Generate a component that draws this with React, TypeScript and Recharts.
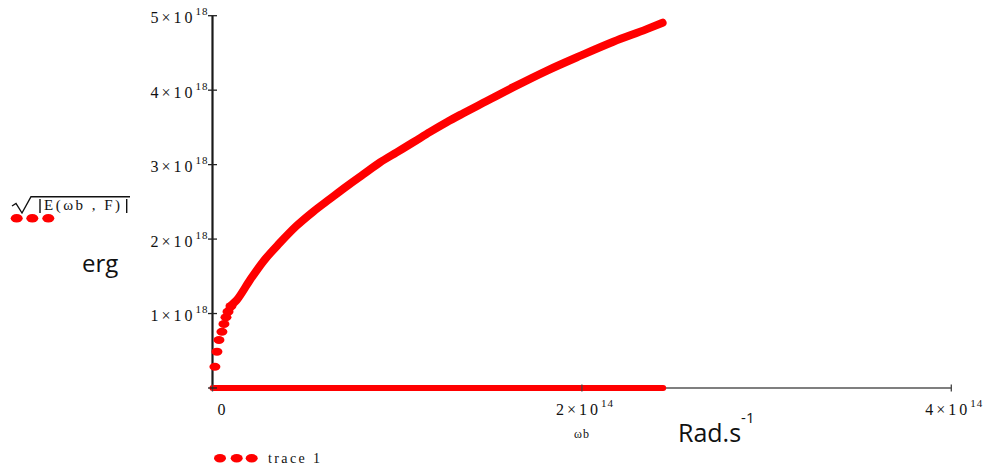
import React from 'react';
import { ComposedChart, Line, Scatter, XAxis, YAxis } from 'recharts';

// omega_b in units of 1e14 rad/s, sqrt|E| in units of 1e18 erg
const headX = [0.013, 0.024, 0.035, 0.051, 0.062, 0.073, 0.084, 0.1];
const headY = [0.286, 0.488, 0.645, 0.756, 0.86, 0.95, 1.025, 1.1];
const tailX = [
  0.084, 0.1, 0.131, 0.203, 0.275, 0.365, 0.456, 0.546, 0.636, 0.727, 0.817, 0.907, 0.997,
  1.087, 1.178, 1.268, 1.358, 1.466, 1.629, 1.809, 1.99, 2.17, 2.351, 2.437,
];
const tailY = [
  1.025, 1.1, 1.18, 1.45, 1.7, 1.95, 2.18, 2.37, 2.54, 2.71, 2.87, 3.03, 3.165,
  3.3, 3.44, 3.57, 3.69, 3.83, 4.04, 4.26, 4.46, 4.65, 4.82, 4.906,
];
const zeroX = [0, 0.5, 1, 1.5, 2, 2.44];
const zeroY = [0, 0, 0, 0, 0, 0];

const xTicks = [0, 2, 4];
const yTicks = [0, 1, 2, 3, 4, 5];

const RED = '#ff0000';
const SERIF = '"Liberation Serif", "Times New Roman", serif';
const SANS = '"Open Sans", "Liberation Sans", sans-serif';

const headData = headX.map((x, i) => ({ x, y: headY[i] }));
const tailData = tailX.map((x, i) => ({ x, y: tailY[i] }));
const zeroData = zeroX.map((x, i) => ({ x, y: zeroY[i] }));

function Dot(props: any) {
  const { cx, cy } = props;
  if (cx == null || cy == null) return null;
  return <ellipse cx={cx} cy={cy} rx={5.5} ry={4} fill={RED} />;
}

function XTick(props: any) {
  const { x, y, payload } = props;
  const v = payload.value;
  return (
    <g>
      <line x1={x} x2={x} y1={y - 3.5} y2={y + 3.5} stroke="#444" strokeWidth={1.3} />
      {v === 0 ? (
        <text x={x + 5} y={y + 27} fontFamily={SERIF} fontSize={16} fill="#111">
          0
        </text>
      ) : (
        <text x={x - 26} y={y + 27} fontFamily={SERIF} fontSize={16} fill="#111" letterSpacing={3}>
          {v}×10
          <tspan dy={-8} fontSize={11} letterSpacing={1}>
            14
          </tspan>
        </text>
      )}
    </g>
  );
}

function YTick(props: any) {
  const { x, y, payload } = props;
  const v = payload.value;
  return (
    <g>
      <line x1={x - 4.5} x2={x + 4.5} y1={y} y2={y} stroke="#222" strokeWidth={1.3} />
      {v !== 0 && (
        <text x={x - 62} y={y + 7.5} fontFamily={SERIF} fontSize={16} fill="#111" letterSpacing={3}>
          {v}×10
          <tspan dy={-8} fontSize={11} letterSpacing={1}>
            18
          </tspan>
        </text>
      )}
    </g>
  );
}

export default function App() {
  return (
    <div style={{ position: 'fixed', left: 0, top: 0, width: 989, height: 471, background: '#fff' }}>
      <ComposedChart
        width={989}
        height={471}
        margin={{ top: 15.7, right: 37.7, bottom: 53, left: 152.5 }}
      >
        <XAxis
          type="number"
          dataKey="x"
          domain={[0, 4]}
          ticks={xTicks}
          interval={0}
          height={30}
          tickSize={0}
          tickMargin={0}
          tickLine={false}
          axisLine={{ stroke: '#555', strokeWidth: 1.5 }}
          tick={(p: any) => <XTick {...p} />}
        />
        <YAxis
          type="number"
          dataKey="y"
          domain={[0, 5]}
          ticks={yTicks}
          interval={0}
          width={60}
          tickSize={0}
          tickMargin={0}
          tickLine={false}
          axisLine={{ stroke: '#1a1a1a', strokeWidth: 2.2 }}
          tick={(p: any) => <YTick {...p} />}
        />
        <Line
          data={zeroData}
          dataKey="y"
          type="linear"
          stroke={RED}
          strokeWidth={6}
          strokeLinecap="round"
          dot={false}
          activeDot={false}
          isAnimationActive={false}
          {...({ zIndex: 900 } as any)}
        />
        <Line
          data={tailData}
          dataKey="y"
          type="monotone"
          stroke={RED}
          strokeWidth={8}
          strokeLinecap="round"
          dot={false}
          activeDot={false}
          isAnimationActive={false}
          {...({ zIndex: 900 } as any)}
        />
        <Scatter
          data={headData}
          dataKey="y"
          fill={RED}
          shape={(p: any) => <Dot {...p} />}
          isAnimationActive={false}
          {...({ zIndex: 900 } as any)}
        />
      </ComposedChart>

      <svg
        width={989}
        height={471}
        style={{ position: 'absolute', left: 0, top: 0, pointerEvents: 'none' }}
      >
        {/* y axis label: sqrt|E(wb,F)| */}
        <path d="M12 206 L16 203.5 L22 213 L31 196.7 L130 196.7" fill="none" stroke="#111" strokeWidth={1.4} />
        <line x1={40} x2={40} y1={199} y2={213} stroke="#111" strokeWidth={1.4} />
        <line x1={126.7} x2={126.7} y1={199} y2={213} stroke="#111" strokeWidth={1.4} />
        <text x={44} y={210} fontFamily={SERIF} fontSize={15} fill="#111" textLength={76} lengthAdjust="spacing">
          E(ωb , F)
        </text>
        <ellipse cx={16.7} cy={218.3} rx={6} ry={4.3} fill={RED} />
        <ellipse cx={32.3} cy={218.3} rx={6} ry={4.3} fill={RED} />
        <ellipse cx={48.3} cy={218.3} rx={6} ry={4.3} fill={RED} />
        <text x={82} y={272} fontFamily={SANS} fontSize={24} fill="#111">
          erg
        </text>

        {/* x axis label */}
        <text x={582} y={438} fontFamily={SERIF} fontSize={12} fill="#111" textAnchor="middle" letterSpacing={1}>
          ωb
        </text>
        <text x={678} y={441.7} fontFamily={SANS} fontSize={25} fill="#111">
          Rad.s
          <tspan dy={-19} fontSize={15}>
            -1
          </tspan>
        </text>

        {/* legend */}
        <ellipse cx={220} cy={458.3} rx={6} ry={4.2} fill={RED} />
        <ellipse cx={236.7} cy={458.3} rx={6} ry={4.2} fill={RED} />
        <ellipse cx={251.7} cy={458.3} rx={6} ry={4.2} fill={RED} />
        <text x={268} y={463} fontFamily={SERIF} fontSize={14} fill="#111" textLength={52} lengthAdjust="spacing">
          trace 1
        </text>
      </svg>
    </div>
  );
}
